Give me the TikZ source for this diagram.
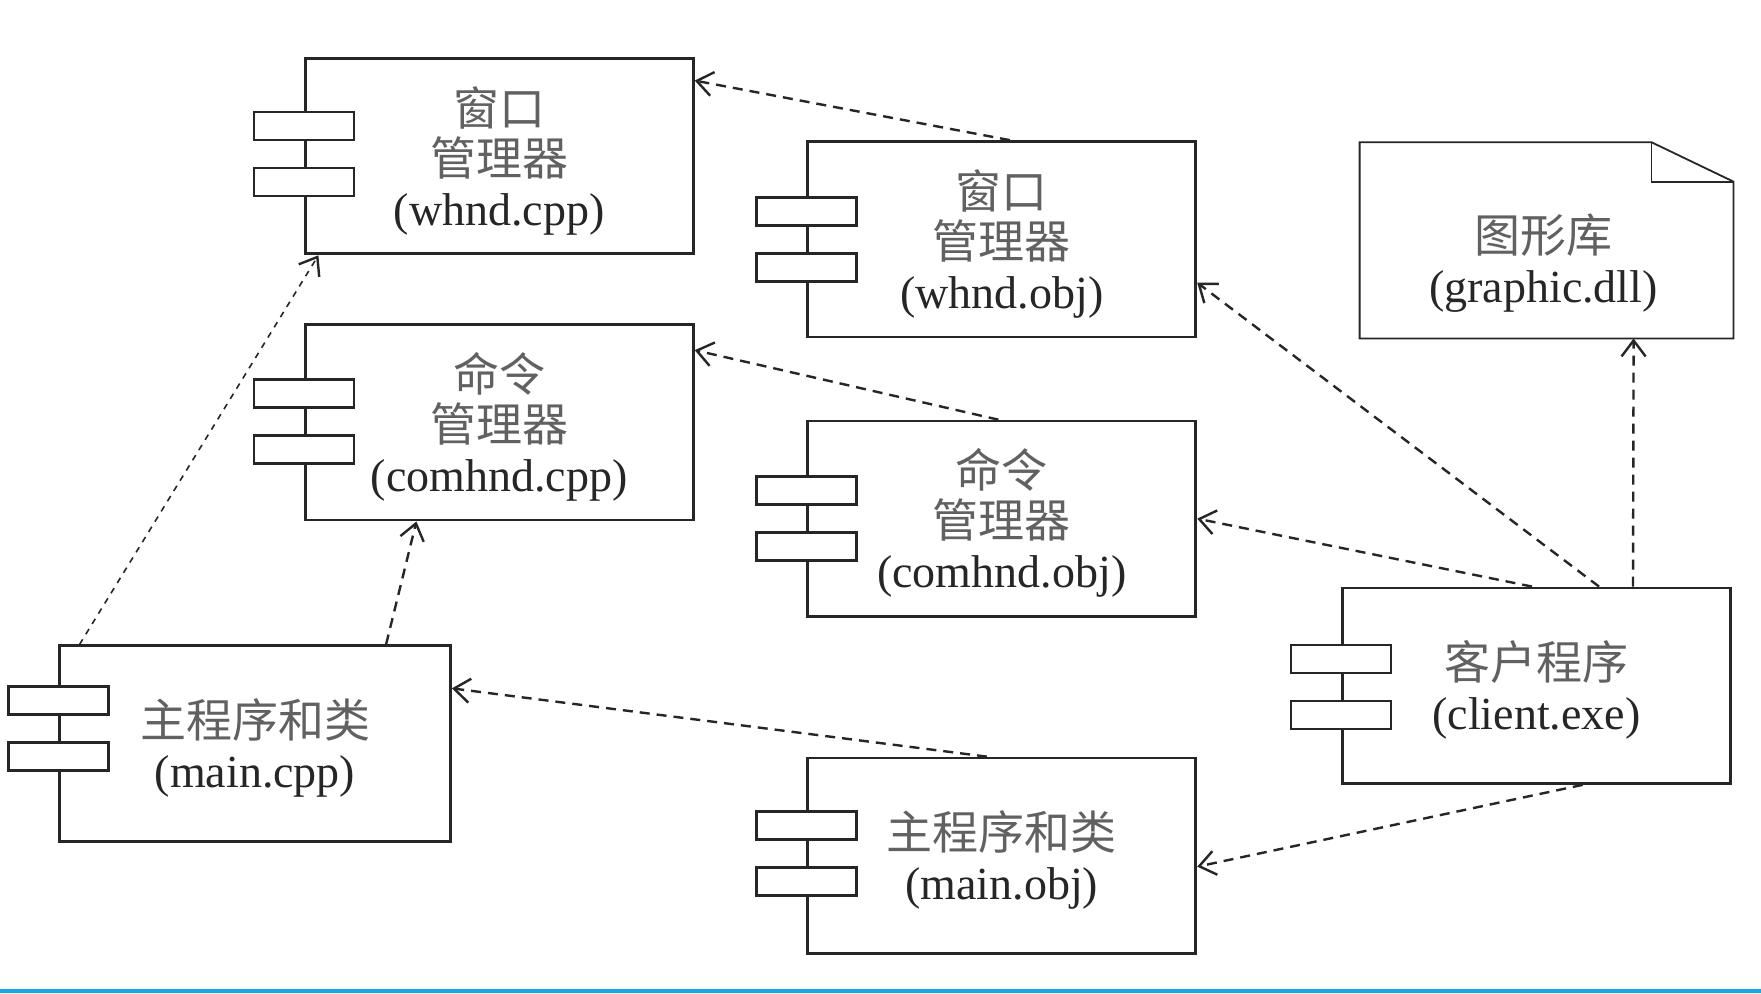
\documentclass[tikz,border=0pt]{standalone}
\usepackage{fontspec}
\setmainfont{Liberation Serif}
\newfontfamily\cjk{Noto Sans CJK SC}
\usetikzlibrary{arrows.meta,calc}
\definecolor{cjkgray}{gray}{0.38}
\definecolor{textdark}{gray}{0.15}
\definecolor{linedark}{gray}{0.15}
\definecolor{barblue}{RGB}{20,170,225}
\newcommand\zh[1]{{\cjk\color{cjkgray}#1}}
\newcommand\zhfirst[1]{\rule{0pt}{24pt}{\cjk\color{cjkgray}#1}}
\newcommand\mycompicons[2]{%
  \draw[iconbox] ($(#1.north west)+(-50,#2-14)$) rectangle ++(100,28);
  \draw[iconbox] ($(#1.north west)+(-50,#2+42)$) rectangle ++(100,28);}
\begin{document}
\begin{tikzpicture}[x=0.5pt,y=-0.5pt,
  comp/.style={draw=linedark, line width=1.4pt, minimum width=194pt, minimum height=97.75pt,
    inner sep=0pt, align=center, font=\fontsize{23}{25}\selectfont, text=textdark},
  iconbox/.style={draw=linedark, line width=1.4pt, fill=white},
  notebody/.style={minimum width=186.5pt, minimum height=97.7pt, inner sep=0pt},
  notetext/.style={align=center, font=\fontsize{23}{25}\selectfont, text=textdark},
  noteline/.style={draw=linedark, line width=0.9pt},
  dep/.style={draw=linedark, line width=1.2pt, dash pattern=on 5pt off 3.5pt,
    -{Straight Barb[length=8pt,width=12pt,line width=1.2pt]}},
  thindep/.style={dep, line width=0.8pt, dash pattern=on 3pt off 3pt}]
\useasboundingbox (0,0) rectangle (1761,993);
\fill[white] (0,0) rectangle (1761,993);
\fill[barblue] (0,989) rectangle (1761,993);

% components
\node[comp] (A) at (499.3,156.1) {\zhfirst{窗口}\\\zh{管理器}\\(whnd.cpp)};
\node[comp] (B) at (1001.8,239.3) {\zhfirst{窗口}\\\zh{管理器}\\(whnd.obj)};
\node[comp] (C) at (499.3,422.3) {\zhfirst{命令}\\\zh{管理器}\\(comhnd.cpp)};
\node[comp] (D) at (1001.8,518.8) {\zhfirst{命令}\\\zh{管理器}\\(comhnd.obj)};
\node[comp, minimum width=195.5pt] (E) at (255,743.5) {\zhfirst{主程序和类}\\(main.cpp)};
\node[comp] (F) at (1001.8,855.8) {\zhfirst{主程序和类}\\(main.obj)};
\node[comp] (G) at (1536.4,685.7) {\zhfirst{客户程序}\\(client.exe)};

\mycompicons{A}{69}
\mycompicons{B}{71}
\mycompicons{C}{70}
\mycompicons{D}{71}
\mycompicons{E}{56}
\mycompicons{F}{68.5}
\mycompicons{G}{72.5}

% note
\node[notebody] (H) at (1546.5,240.3) {};
\draw[noteline] (H.north west) -- ($(H.north east)+(-82,0)$) -- ($(H.north east)+(0,39.4)$)
  -- (H.south east) -- (H.south west) -- cycle;
\draw[noteline] ($(H.north east)+(-82,0)$) -- ($(H.north east)+(-82,39.4)$) -- ($(H.north east)+(0,39.4)$);
\node[notetext] (Ht) at ($(H.center)+(-3,23)$) {\zh{图形库}\\(graphic.dll)};

% dependencies
\draw[dep] ($(B.north west)+(203.5,0)$) -- ($(A.north east)+(0,23.6)$);
\draw[thindep] ($(E.north west)+(21.5,0)$) -- ($(A.south west)+(14.5,0)$);
\draw[dep] ($(E.north west)+(328,0)$) -- ($(C.south west)+(112.5,0)$);
\draw[dep] ($(D.north west)+(192,0)$) -- ($(C.north east)+(0,27)$);
\draw[dep] ($(F.north west)+(180.5,0)$) -- ($(E.north east)+(0,44)$);
\draw[dep] ($(G.north west)+(258,0)$) -- ($(B.north east)+(0,142.5)$);
\draw[dep] ($(G.north west)+(191,0)$) -- ($(D.north east)+(0,99)$);
\draw[dep] ($(G.north west)+(292,0)$) -- ($(H.south west)+(274,0)$);
\draw[dep] ($(G.south west)+(241.6,0)$) -- ($(F.north east)+(0,110)$);
\end{tikzpicture}
\end{document}
